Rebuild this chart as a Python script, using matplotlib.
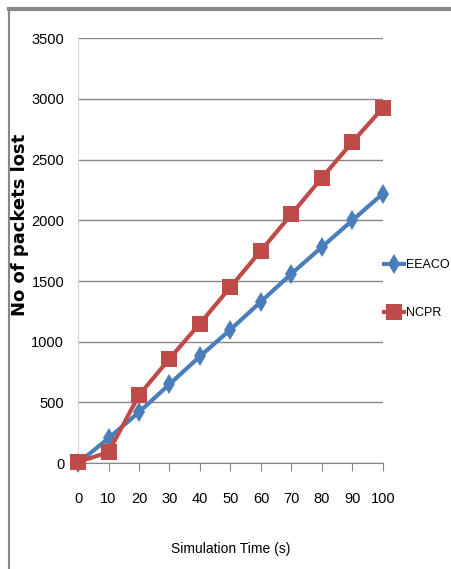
import matplotlib.pyplot as plt
from matplotlib.lines import Line2D

# Simulation time (s) and packets lost for each protocol
sim_time = [0, 10, 20, 30, 40, 50, 60, 70, 80, 90, 100]
eeaco = [0, 205, 420, 650, 880, 1100, 1330, 1560, 1780, 2000, 2220]
ncpr = [10, 90, 560, 860, 1150, 1450, 1750, 2050, 2350, 2645, 2925]
y_ticks = [0, 500, 1000, 1500, 2000, 2500, 3000, 3500]

plt.rcParams['font.family'] = ['Liberation Sans', 'DejaVu Sans']

fig = plt.figure(figsize=(4.51, 5.69), dpi=100)
ax = fig.add_axes([0.173, 0.186, 0.676, 0.747])

ax.plot(sim_time, eeaco, color='#4A7EBB', lw=3, marker='d', ms=10,
        mew=0, label='EEACO', clip_on=False, zorder=3)
ax.plot(sim_time, ncpr, color='#BE4B48', lw=3, marker='s', ms=11,
        mew=0, label='NCPR', clip_on=False, zorder=3)

ax.set_xlim(0, 100)
ax.set_ylim(0, 3500)
ax.set_xticks(sim_time)
ax.set_yticks(y_ticks)
ax.set_xticklabels([str(v) for v in sim_time], fontsize=10.5)
ax.set_yticklabels([str(v) for v in y_ticks], fontsize=10.5)

ax.grid(axis='y', color='#868686', lw=1)
ax.set_axisbelow(True)
ax.spines['top'].set_visible(False)
ax.spines['right'].set_visible(False)
ax.spines['left'].set_color('#D9D9D9')
ax.spines['bottom'].set_color('#868686')
ax.tick_params(axis='x', direction='out', length=6, color='#868686', pad=15)
ax.tick_params(axis='y', length=0, pad=10)

ax.set_xlabel('Simulation Time (s)', fontsize=10, labelpad=26)
fig.text(0.045, 0.605, 'No of packets lost', rotation=90, fontsize=13,
         fontweight='bold', family='DejaVu Sans', ha='center', va='center')

ax.legend(loc='center left', bbox_to_anchor=(0.852, 0.492),
          bbox_transform=fig.transFigure, frameon=False, borderpad=0,
          borderaxespad=0, handlelength=1.6, handletextpad=0.15,
          labelspacing=2.9, prop={'size': 9})

# thin gray frame along the top and left edges
fig.add_artist(Line2D([0.02, 1.0], [0.984, 0.984], color='#888888', lw=3,
                      transform=fig.transFigure))
fig.add_artist(Line2D([0.02, 0.02], [0.0, 0.984], color='#888888', lw=1.5,
                      transform=fig.transFigure))

fig.savefig('out.png', dpi=100)
